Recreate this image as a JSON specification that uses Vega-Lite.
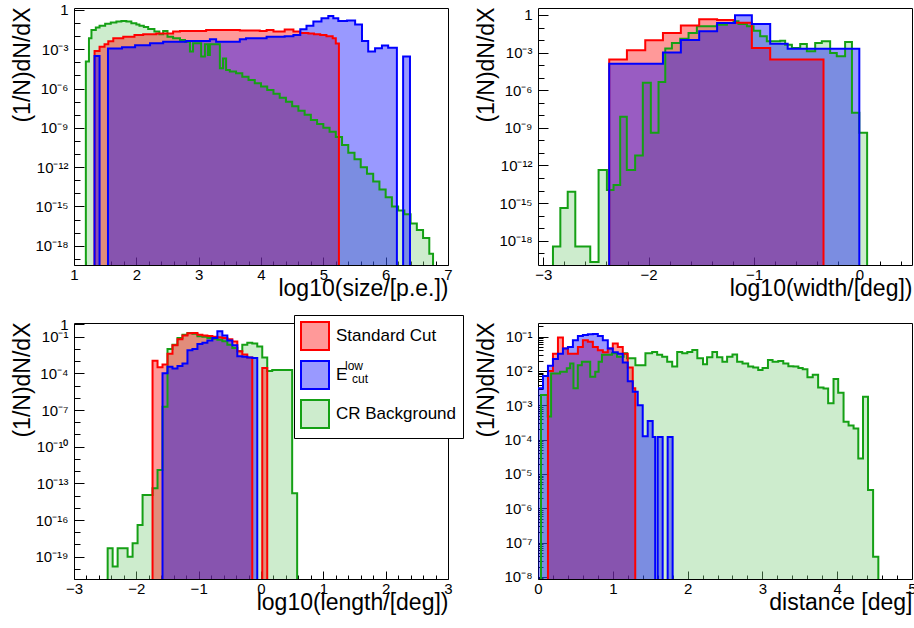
{
  "$schema": "https://vega.github.io/schema/vega-lite/v6.json",
  "background": "white",
  "padding": {"left": 10, "top": 2, "right": 0, "bottom": 0},
  "columns": 2,
  "spacing": {"row": 58, "column": 90},
  "bounds": "flush",
  "resolve": {
    "scale": {"x": "independent", "y": "independent", "fill": "independent", "stroke": "independent", "opacity": "independent"},
    "axis": {"x": "independent", "y": "independent"},
    "legend": {"fill": "independent", "stroke": "independent", "opacity": "independent"}
  },
  "config": {
    "font": "Liberation Sans",
    "view": {"stroke": "#000000", "strokeWidth": 1},
    "axis": {
      "domain": false, "grid": false, "labelFont": "Liberation Sans", "labelFontSize": 15, "labelColor": "#000000",
      "tickColor": "#000000", "tickWidth": 1, "titleFont": "Liberation Sans", "titleFontSize": 23, "titleFontWeight": "normal",
      "titleColor": "#000000", "labelFlush": false, "labelOverlap": false, "labelBound": false, "zindex": 1
    },
    "axisX": {"labelPadding": 10, "titleAlign": "right", "titleBaseline": "alphabetic", "titleX": 374, "titleY": 30, "titleAnchor": "end"},
    "axisY": {"labelPadding": 16, "titleAngle": -90, "titleAlign": "right", "titleBaseline": "middle", "titleX": -52, "titleY": -1, "titleAnchor": "end"}
  },
  "concat": [
    {
      "width": 374, "height": 257,
      "data": {"values": [
        {"s":"CR","x":1,"y":1e-30},{"s":"CR","x":1.19,"y":1.15e-4},{"s":"CR","x":1.24,"y":6.9e-3},{"s":"CR","x":1.28,"y":2.95e-2},{"s":"CR","x":1.35,"y":4.5e-2},{"s":"CR","x":1.41,"y":6.3e-2},{"s":"CR","x":1.5,"y":8.9e-2},{"s":"CR","x":1.59,"y":0.112},{"s":"CR","x":1.68,"y":0.132},{"s":"CR","x":1.76,"y":0.145},{"s":"CR","x":1.84,"y":0.129},{"s":"CR","x":1.92,"y":9.5e-2},{"s":"CR","x":2.0,"y":7.6e-2},{"s":"CR","x":2.05,"y":6.3e-2},{"s":"CR","x":2.12,"y":5.0e-2},{"s":"CR","x":2.19,"y":3.55e-2},{"s":"CR","x":2.29,"y":2.24e-2},{"s":"CR","x":2.37,"y":1.38e-2},{"s":"CR","x":2.43,"y":2.5e-2},{"s":"CR","x":2.5,"y":9.1e-3},{"s":"CR","x":2.59,"y":6.9e-3},{"s":"CR","x":2.7,"y":5.1e-3},{"s":"CR","x":2.78,"y":3.8e-3},{"s":"CR","x":2.86,"y":6.6e-4},{"s":"CR","x":2.91,"y":2.9e-3},{"s":"CR","x":3.04,"y":2.75e-4},{"s":"CR","x":3.1,"y":2.4e-3},{"s":"CR","x":3.15,"y":3.6e-4},{"s":"CR","x":3.18,"y":2.4e-3},{"s":"CR","x":3.34,"y":3.55e-5},{"s":"CR","x":3.39,"y":2.0e-4},{"s":"CR","x":3.44,"y":2.6e-5},{"s":"CR","x":3.5,"y":2.0e-5},{"s":"CR","x":3.6,"y":1.48e-5},{"s":"CR","x":3.7,"y":8.1e-6},{"s":"CR","x":3.8,"y":4.6e-6},{"s":"CR","x":3.9,"y":2.5e-6},{"s":"CR","x":4.0,"y":1.41e-6},{"s":"CR","x":4.1,"y":7.9e-7},{"s":"CR","x":4.2,"y":4.0e-7},{"s":"CR","x":4.3,"y":2.0e-7},{"s":"CR","x":4.4,"y":1.0e-7},{"s":"CR","x":4.5,"y":4.5e-8},{"s":"CR","x":4.6,"y":2.0e-8},{"s":"CR","x":4.7,"y":1.0e-8},{"s":"CR","x":4.8,"y":4.0e-9},{"s":"CR","x":4.9,"y":2.0e-9},{"s":"CR","x":5.0,"y":1.0e-9},{"s":"CR","x":5.1,"y":5.0e-10},{"s":"CR","x":5.2,"y":2.0e-10},{"s":"CR","x":5.3,"y":5.0e-11},{"s":"CR","x":5.4,"y":1.26e-11},{"s":"CR","x":5.5,"y":4.0e-12},{"s":"CR","x":5.6,"y":1.0e-12},{"s":"CR","x":5.7,"y":3.2e-13},{"s":"CR","x":5.8,"y":7.9e-14},{"s":"CR","x":5.9,"y":2.0e-14},{"s":"CR","x":6.0,"y":5.0e-15},{"s":"CR","x":6.1,"y":1.0e-15},{"s":"CR","x":6.2,"y":5.0e-16},{"s":"CR","x":6.3,"y":2.5e-16},{"s":"CR","x":6.4,"y":5.0e-17},{"s":"CR","x":6.5,"y":1.58e-17},{"s":"CR","x":6.6,"y":4.0e-18},{"s":"CR","x":6.7,"y":2.5e-19},{"s":"CR","x":6.76,"y":1e-30},
        {"s":"SC","x":1,"y":1e-30},{"s":"SC","x":1.33,"y":7.4e-4},{"s":"SC","x":1.41,"y":1.58e-3},{"s":"SC","x":1.49,"y":2.4e-3},{"s":"SC","x":1.55,"y":4.0e-3},{"s":"SC","x":1.63,"y":6.9e-3},{"s":"SC","x":1.79,"y":9.1e-3},{"s":"SC","x":1.97,"y":1.23e-2},{"s":"SC","x":2.11,"y":1.38e-2},{"s":"SC","x":2.32,"y":1.58e-2},{"s":"SC","x":2.59,"y":2.24e-2},{"s":"SC","x":2.7,"y":2.5e-2},{"s":"SC","x":3.12,"y":2.95e-2},{"s":"SC","x":3.66,"y":2.7e-2},{"s":"SC","x":3.98,"y":2.5e-2},{"s":"SC","x":4.09,"y":2.95e-2},{"s":"SC","x":4.2,"y":2.24e-2},{"s":"SC","x":4.38,"y":3.16e-2},{"s":"SC","x":4.52,"y":2.24e-2},{"s":"SC","x":4.63,"y":1.78e-2},{"s":"SC","x":4.76,"y":1.58e-2},{"s":"SC","x":4.85,"y":1.38e-2},{"s":"SC","x":4.95,"y":1.2e-2},{"s":"SC","x":5.05,"y":1.0e-2},{"s":"SC","x":5.15,"y":6.9e-3},{"s":"SC","x":5.2,"y":2.8e-3},{"s":"SC","x":5.25,"y":1e-30},
        {"s":"EL","x":1,"y":1e-30},{"s":"EL","x":1.33,"y":3.1e-4},{"s":"EL","x":1.41,"y":1e-30},{"s":"EL","x":1.545,"y":1.12e-3},{"s":"EL","x":1.77,"y":1.41e-3},{"s":"EL","x":1.98,"y":2.0e-3},{"s":"EL","x":2.22,"y":2.9e-3},{"s":"EL","x":2.43,"y":3.8e-3},{"s":"EL","x":2.8,"y":4.2e-3},{"s":"EL","x":3.18,"y":5.8e-3},{"s":"EL","x":3.28,"y":3.8e-3},{"s":"EL","x":3.66,"y":5.8e-3},{"s":"EL","x":3.76,"y":6.9e-3},{"s":"EL","x":4.09,"y":9.1e-3},{"s":"EL","x":4.38,"y":1.0e-2},{"s":"EL","x":4.52,"y":1.23e-2},{"s":"EL","x":4.63,"y":3.3e-2},{"s":"EL","x":4.73,"y":6.3e-2},{"s":"EL","x":4.84,"y":0.129},{"s":"EL","x":4.97,"y":0.229},{"s":"EL","x":5.08,"y":0.35},{"s":"EL","x":5.16,"y":0.229},{"s":"EL","x":5.24,"y":0.145},{"s":"EL","x":5.38,"y":0.158},{"s":"EL","x":5.51,"y":7.9e-2},{"s":"EL","x":5.62,"y":4.3e-3},{"s":"EL","x":5.72,"y":6.6e-4},{"s":"EL","x":5.83,"y":1.2e-3},{"s":"EL","x":5.94,"y":1.9e-3},{"s":"EL","x":6.04,"y":1.32e-3},{"s":"EL","x":6.18,"y":1e-30},{"s":"EL","x":6.28,"y":2.75e-4},{"s":"EL","x":6.39,"y":1e-30}
      ]},
      "encoding": {
        "x": {"field": "x", "type": "quantitative", "scale": {"domain": [1, 7], "nice": false, "zero": false},
          "axis": {"title": "log10(size/[p.e.])", "values": [1,1.2,1.4,1.6,1.8,2,2.2,2.4,2.6,2.8,3,3.2,3.4,3.6,3.8,4,4.2,4.4,4.6,4.8,5,5.2,5.4,5.6,5.8,6,6.2,6.4,6.6,6.8,7],
            "labelExpr": "abs(datum.value - round(datum.value)) < 0.001 ? format(datum.value, 'd') : ''",
            "tickSize": {"condition": {"test": "abs(datum.value - round(datum.value)) < 0.001", "value": -8}, "value": -4}}},
        "y": {"field": "y", "type": "quantitative", "stack": null, "scale": {"type": "log", "domain": [3.4e-20, 1.41], "nice": false},
          "axis": {"title": "(1/N)dN/dX", "values": [1,0.1,0.01,1e-3,1e-4,1e-5,1e-6,1e-7,1e-8,1e-9,1e-10,1e-11,1e-12,1e-13,1e-14,1e-15,1e-16,1e-17,1e-18,1e-19],
            "labelExpr": "round(-log(datum.value)/LN10) % 3 != 0 ? '' : round(-log(datum.value)/LN10) == 0 ? '1' : '10⁻' + (round(-log(datum.value)/LN10) >= 10 ? '¹' : '') + substring('⁰¹²³⁴⁵⁶⁷⁸⁹', round(-log(datum.value)/LN10) % 10, round(-log(datum.value)/LN10) % 10 + 1)",
            "tickSize": {"condition": {"test": "round(-log(datum.value)/LN10) % 3 == 0", "value": -10}, "value": -6}}}
      },
      "layer": [
        {"mark": {"type": "area", "interpolate": "step-after", "clip": true, "fillOpacity": 0.4},
         "encoding": {"y2": {"datum": 1e-30},
           "fill": {"field": "s", "type": "nominal", "scale": {"domain": ["SC","EL","CR"], "range": ["#ff0000","#0000ff","#82d082"]}, "legend": null}}},
        {"mark": {"type": "line", "interpolate": "step-after", "clip": true, "strokeWidth": 2},
         "encoding": {"stroke": {"field": "s", "type": "nominal", "scale": {"domain": ["SC","EL","CR"], "range": ["#ff0000","#0000ff","#15a015"]}, "legend": null}}}
      ]
    },
    {
      "width": 374, "height": 257,
      "data": {"values": [
        {"s":"CR","x":-3.05,"y":1e-30},{"s":"CR","x":-2.908,"y":3.4e-19},{"s":"CR","x":-2.838,"y":4.0e-16},{"s":"CR","x":-2.768,"y":8.1e-15},{"s":"CR","x":-2.696,"y":3.4e-19},{"s":"CR","x":-2.554,"y":2.0e-20},{"s":"CR","x":-2.475,"y":4.4e-13},{"s":"CR","x":-2.396,"y":1.1e-14},{"s":"CR","x":-2.333,"y":2.75e-14},{"s":"CR","x":-2.27,"y":7.8e-9},{"s":"CR","x":-2.207,"y":4.4e-13},{"s":"CR","x":-2.128,"y":6.3e-12},{"s":"CR","x":-2.055,"y":4.0e-6},{"s":"CR","x":-1.979,"y":4.0e-10},{"s":"CR","x":-1.906,"y":4.5e-6},{"s":"CR","x":-1.842,"y":2.1e-3},{"s":"CR","x":-1.779,"y":5.9e-3},{"s":"CR","x":-1.7,"y":1.29e-2},{"s":"CR","x":-1.621,"y":3.6e-2},{"s":"CR","x":-1.542,"y":0.126},{"s":"CR","x":-1.352,"y":0.17},{"s":"CR","x":-1.257,"y":0.229},{"s":"CR","x":-1.194,"y":0.316},{"s":"CR","x":-1.147,"y":0.19},{"s":"CR","x":-1.067,"y":0.126},{"s":"CR","x":-1.004,"y":5.6e-2},{"s":"CR","x":-0.941,"y":2.0e-2},{"s":"CR","x":-0.878,"y":7.9e-3},{"s":"CR","x":-0.751,"y":8.9e-3},{"s":"CR","x":-0.704,"y":4.3e-3},{"s":"CR","x":-0.64,"y":2.34e-3},{"s":"CR","x":-0.561,"y":4.9e-3},{"s":"CR","x":-0.498,"y":1.26e-3},{"s":"CR","x":-0.419,"y":5.9e-3},{"s":"CR","x":-0.356,"y":7.9e-3},{"s":"CR","x":-0.277,"y":9.3e-4},{"s":"CR","x":-0.214,"y":5.0e-4},{"s":"CR","x":-0.135,"y":7.1e-3},{"s":"CR","x":-0.07,"y":1.58e-8},{"s":"CR","x":0.0,"y":4.0e-10},{"s":"CR","x":0.074,"y":1e-30},
        {"s":"SC","x":-3.05,"y":1e-30},{"s":"SC","x":-2.374,"y":2.75e-4},{"s":"SC","x":-2.206,"y":1.51e-3},{"s":"SC","x":-2.032,"y":9.5e-3},{"s":"SC","x":-1.864,"y":3.6e-2},{"s":"SC","x":-1.694,"y":0.148},{"s":"SC","x":-1.52,"y":0.447},{"s":"SC","x":-1.35,"y":0.398},{"s":"SC","x":-1.18,"y":0.24},{"s":"SC","x":-1.02,"y":2.34e-3},{"s":"SC","x":-0.846,"y":2.75e-4},{"s":"SC","x":-0.34,"y":1e-30},
        {"s":"EL","x":-3.05,"y":1e-30},{"s":"EL","x":-2.374,"y":1.26e-4},{"s":"EL","x":-1.864,"y":1.0e-3},{"s":"EL","x":-1.694,"y":1.0e-2},{"s":"EL","x":-1.52,"y":5.0e-2},{"s":"EL","x":-1.35,"y":0.229},{"s":"EL","x":-1.18,"y":0.955},{"s":"EL","x":-1.02,"y":0.19},{"s":"EL","x":-0.846,"y":5.0e-3},{"s":"EL","x":-0.68,"y":2.0e-3},{"s":"EL","x":0.0,"y":1e-30}
      ]},
      "encoding": {
        "x": {"field": "x", "type": "quantitative", "scale": {"domain": [-3.05, 0.5], "nice": false, "zero": false},
          "axis": {"title": "log10(width/[deg])", "values": [-3,-2.8,-2.6,-2.4,-2.2,-2,-1.8,-1.6,-1.4,-1.2,-1,-0.8,-0.6,-0.4,-0.2,0,0.2,0.4],
            "labelExpr": "abs(datum.value - round(datum.value)) < 0.001 ? format(datum.value, 'd') : ''",
            "tickSize": {"condition": {"test": "abs(datum.value - round(datum.value)) < 0.001", "value": -8}, "value": -4}}},
        "y": {"field": "y", "type": "quantitative", "stack": null, "scale": {"type": "log", "domain": [1.15e-20, 3.6], "nice": false},
          "axis": {"title": "(1/N)dN/dX", "values": [1,0.1,0.01,1e-3,1e-4,1e-5,1e-6,1e-7,1e-8,1e-9,1e-10,1e-11,1e-12,1e-13,1e-14,1e-15,1e-16,1e-17,1e-18,1e-19],
            "labelExpr": "round(-log(datum.value)/LN10) % 3 != 0 ? '' : round(-log(datum.value)/LN10) == 0 ? '1' : '10⁻' + (round(-log(datum.value)/LN10) >= 10 ? '¹' : '') + substring('⁰¹²³⁴⁵⁶⁷⁸⁹', round(-log(datum.value)/LN10) % 10, round(-log(datum.value)/LN10) % 10 + 1)",
            "tickSize": {"condition": {"test": "round(-log(datum.value)/LN10) % 3 == 0", "value": -10}, "value": -6}}}
      },
      "layer": [
        {"mark": {"type": "area", "interpolate": "step-after", "clip": true, "fillOpacity": 0.4},
         "encoding": {"y2": {"datum": 1e-30},
           "fill": {"field": "s", "type": "nominal", "scale": {"domain": ["SC","EL","CR"], "range": ["#ff0000","#0000ff","#82d082"]}, "legend": null}}},
        {"mark": {"type": "line", "interpolate": "step-after", "clip": true, "strokeWidth": 2},
         "encoding": {"stroke": {"field": "s", "type": "nominal", "scale": {"domain": ["SC","EL","CR"], "range": ["#ff0000","#0000ff","#15a015"]}, "legend": null}}}
      ]
    },
    {
      "width": 374, "height": 256,
      "data": {"values": [
        {"s":"CR","x":-3,"y":1e-30},{"s":"CR","x":-2.46,"y":5.0e-19},{"s":"CR","x":-2.38,"y":1.58e-20},{"s":"CR","x":-2.3,"y":5.0e-19},{"s":"CR","x":-2.14,"y":1.0e-19},{"s":"CR","x":-2.06,"y":1.26e-18},{"s":"CR","x":-1.98,"y":4.0e-17},{"s":"CR","x":-1.9,"y":1.12e-14},{"s":"CR","x":-1.74,"y":4.0e-14},{"s":"CR","x":-1.66,"y":1.26e-12},{"s":"CR","x":-1.58,"y":1.86e-7},{"s":"CR","x":-1.5,"y":1.0e-2},{"s":"CR","x":-1.42,"y":2.24e-2},{"s":"CR","x":-1.34,"y":7.8e-2},{"s":"CR","x":-1.26,"y":0.145},{"s":"CR","x":-1.18,"y":0.2},{"s":"CR","x":-1.1,"y":0.178},{"s":"CR","x":-1.02,"y":0.107},{"s":"CR","x":-0.94,"y":0.1},{"s":"CR","x":-0.86,"y":7.9e-2},{"s":"CR","x":-0.78,"y":6.9e-2},{"s":"CR","x":-0.7,"y":5.6e-2},{"s":"CR","x":-0.62,"y":4.2e-2},{"s":"CR","x":-0.54,"y":2.24e-2},{"s":"CR","x":-0.46,"y":1.17e-2},{"s":"CR","x":-0.38,"y":6.3e-3},{"s":"CR","x":-0.3,"y":2.24e-2},{"s":"CR","x":-0.22,"y":3.16e-2},{"s":"CR","x":-0.14,"y":2.8e-2},{"s":"CR","x":-0.06,"y":1.58e-2},{"s":"CR","x":0.02,"y":2.0e-3},{"s":"CR","x":0.1,"y":1.58e-4},{"s":"CR","x":0.18,"y":1.9e-4},{"s":"CR","x":0.5,"y":1.58e-14},{"s":"CR","x":0.58,"y":1e-30},
        {"s":"SC","x":-3,"y":1e-30},{"s":"SC","x":-1.74,"y":1.1e-3},{"s":"SC","x":-1.66,"y":3.16e-4},{"s":"SC","x":-1.58,"y":5.2e-4},{"s":"SC","x":-1.5,"y":4.0e-3},{"s":"SC","x":-1.42,"y":2.0e-2},{"s":"SC","x":-1.34,"y":6.3e-2},{"s":"SC","x":-1.26,"y":0.126},{"s":"SC","x":-1.18,"y":0.19},{"s":"SC","x":-1.1,"y":0.2},{"s":"SC","x":-1.02,"y":0.141},{"s":"SC","x":-0.94,"y":0.126},{"s":"SC","x":-0.86,"y":0.112},{"s":"SC","x":-0.78,"y":0.1},{"s":"SC","x":-0.7,"y":8.9e-2},{"s":"SC","x":-0.62,"y":7.9e-2},{"s":"SC","x":-0.54,"y":6.3e-2},{"s":"SC","x":-0.46,"y":4.0e-2},{"s":"SC","x":-0.38,"y":6.3e-3},{"s":"SC","x":-0.3,"y":3.5e-3},{"s":"SC","x":-0.22,"y":2.0e-3},{"s":"SC","x":-0.14,"y":1e-30},{"s":"SC","x":0.02,"y":2.75e-4},{"s":"SC","x":0.1,"y":1e-30},
        {"s":"EL","x":-3,"y":1e-30},{"s":"EL","x":-1.58,"y":1.0e-4},{"s":"EL","x":-1.5,"y":3.5e-4},{"s":"EL","x":-1.42,"y":2.5e-4},{"s":"EL","x":-1.34,"y":4.0e-4},{"s":"EL","x":-1.26,"y":6.3e-4},{"s":"EL","x":-1.18,"y":7.9e-3},{"s":"EL","x":-1.1,"y":1.0e-2},{"s":"EL","x":-1.02,"y":2.5e-2},{"s":"EL","x":-0.94,"y":3.16e-2},{"s":"EL","x":-0.86,"y":5.0e-2},{"s":"EL","x":-0.78,"y":7.9e-2},{"s":"EL","x":-0.7,"y":0.28},{"s":"EL","x":-0.62,"y":0.126},{"s":"EL","x":-0.54,"y":5.0e-2},{"s":"EL","x":-0.46,"y":2.0e-2},{"s":"EL","x":-0.38,"y":2.5e-3},{"s":"EL","x":-0.3,"y":2.24e-3},{"s":"EL","x":-0.22,"y":2.0e-3},{"s":"EL","x":-0.14,"y":1.78e-3},{"s":"EL","x":-0.06,"y":1e-30}
      ]},
      "encoding": {
        "x": {"field": "x", "type": "quantitative", "scale": {"domain": [-3, 3], "nice": false, "zero": false},
          "axis": {"title": "log10(length/[deg])", "values": [-3,-2.8,-2.6,-2.4,-2.2,-2,-1.8,-1.6,-1.4,-1.2,-1,-0.8,-0.6,-0.4,-0.2,0,0.2,0.4,0.6,0.8,1,1.2,1.4,1.6,1.8,2,2.2,2.4,2.6,2.8,3],
            "labelExpr": "abs(datum.value - round(datum.value)) < 0.001 ? format(datum.value, 'd') : ''",
            "tickSize": {"condition": {"test": "abs(datum.value - round(datum.value)) < 0.001", "value": -8}, "value": -4}}},
        "y": {"field": "y", "type": "quantitative", "stack": null, "scale": {"type": "log", "domain": [1.5e-21, 1.32], "nice": false},
          "axis": {"title": "(1/N)dN/dX", "values": [1,0.1,0.01,1e-3,1e-4,1e-5,1e-6,1e-7,1e-8,1e-9,1e-10,1e-11,1e-12,1e-13,1e-14,1e-15,1e-16,1e-17,1e-18,1e-19,1e-20],
            "labelExpr": "round(-log(datum.value)/LN10) == 0 ? '1' : round(-log(datum.value)/LN10) % 3 != 1 ? '' : '10⁻' + (round(-log(datum.value)/LN10) >= 10 ? '¹' : '') + substring('⁰¹²³⁴⁵⁶⁷⁸⁹', round(-log(datum.value)/LN10) % 10, round(-log(datum.value)/LN10) % 10 + 1)",
            "tickSize": {"condition": {"test": "round(-log(datum.value)/LN10) % 3 == 1 || round(-log(datum.value)/LN10) == 0", "value": -10}, "value": -6}}}
      },
      "layer": [
        {"mark": {"type": "area", "interpolate": "step-after", "clip": true, "fillOpacity": 0.4},
         "encoding": {"y2": {"datum": 1e-30},
           "fill": {"field": "s", "type": "nominal", "scale": {"domain": ["SC","EL","CR"], "range": ["#ff0000","#0000ff","#82d082"]},
             "legend": {"orient": "none", "legendX": 220, "legendY": -8, "title": null, "symbolType": "square", "symbolSize": 784,
               "labelFont": "Liberation Sans", "labelFontSize": 17, "labelColor": "#000000", "labelOffset": 6, "rowPadding": 3, "padding": 6,
               "strokeColor": "#000000", "fillColor": "#ffffff", "zindex": 1,
               "labelExpr": "datum.label == 'SC' ? 'Standard Cut' : datum.label == 'EL' ? 'E' : 'CR Background'",
               "encode": {"symbols": {"update": {"strokeWidth": {"value": 2}, "fillOpacity": {"value": 0.4}}}}}},
           "opacity": {"datum": "cut", "type": "ordinal", "scale": {"range": [1]},
             "legend": {"orient": "none", "legendX": 271, "legendY": 38, "title": "low", "titleFont": "Liberation Sans", "titleFontSize": 12,
               "titleFontWeight": "normal", "titleColor": "#000000", "titlePadding": 0, "titleBaseline": "top", "padding": 0, "symbolSize": 0, "symbolOpacity": 0,
               "labelOffset": -5, "labelFont": "Liberation Sans", "labelFontSize": 12, "labelColor": "#000000", "zindex": 2,
               "encode": {"symbols": {"update": {"opacity": {"value": 0}}}}}}}},
        {"mark": {"type": "line", "interpolate": "step-after", "clip": true, "strokeWidth": 2},
         "encoding": {"stroke": {"field": "s", "type": "nominal", "scale": {"domain": ["SC","EL","CR"], "range": ["#ff0000","#0000ff","#15a015"]},
           "legend": {"orient": "none", "legendX": 220, "legendY": -8, "title": null, "symbolType": "square", "symbolSize": 784,
             "labelFont": "Liberation Sans", "labelFontSize": 17, "labelColor": "#000000", "labelOffset": 6, "rowPadding": 3, "padding": 6,
             "strokeColor": "#000000", "fillColor": "#ffffff", "zindex": 1,
             "labelExpr": "datum.label == 'SC' ? 'Standard Cut' : datum.label == 'EL' ? 'E' : 'CR Background'",
             "encode": {"symbols": {"update": {"strokeWidth": {"value": 2}, "fillOpacity": {"value": 0.4}}}}}}}}
      ]
    },
    {
      "width": 374, "height": 256,
      "data": {"values": [
        {"s":"CR","x":0,"y":1e-30},{"s":"CR","x":0.04,"y":2.0e-3},{"s":"CR","x":0.13,"y":4.7e-4},{"s":"CR","x":0.175,"y":8.5e-3},{"s":"CR","x":0.295,"y":9.5e-3},{"s":"CR","x":0.385,"y":1.2e-2},{"s":"CR","x":0.43,"y":1.66e-2},{"s":"CR","x":0.474,"y":3.16e-3},{"s":"CR","x":0.532,"y":1.48e-2},{"s":"CR","x":0.586,"y":1.86e-2},{"s":"CR","x":0.698,"y":6.8e-3},{"s":"CR","x":0.765,"y":9.5e-3},{"s":"CR","x":0.81,"y":1.86e-2},{"s":"CR","x":0.855,"y":2.95e-2},{"s":"CR","x":0.989,"y":3.3e-2},{"s":"CR","x":1.056,"y":2.6e-2},{"s":"CR","x":1.145,"y":3.3e-2},{"s":"CR","x":1.19,"y":2.34e-2},{"s":"CR","x":1.302,"y":1.48e-2},{"s":"CR","x":1.436,"y":3.3e-2},{"s":"CR","x":1.526,"y":3.6e-2},{"s":"CR","x":1.593,"y":2.95e-2},{"s":"CR","x":1.66,"y":2.6e-2},{"s":"CR","x":1.727,"y":1.86e-2},{"s":"CR","x":1.794,"y":1.35e-2},{"s":"CR","x":1.861,"y":3.6e-2},{"s":"CR","x":1.928,"y":3.3e-2},{"s":"CR","x":1.996,"y":3.6e-2},{"s":"CR","x":2.063,"y":4.1e-2},{"s":"CR","x":2.13,"y":2.34e-2},{"s":"CR","x":2.206,"y":1.58e-2},{"s":"CR","x":2.26,"y":2.5e-2},{"s":"CR","x":2.331,"y":3.6e-2},{"s":"CR","x":2.394,"y":2.5e-2},{"s":"CR","x":2.465,"y":1.86e-2},{"s":"CR","x":2.528,"y":2.6e-2},{"s":"CR","x":2.6,"y":3.0e-2},{"s":"CR","x":2.662,"y":1.86e-2},{"s":"CR","x":2.734,"y":1.66e-2},{"s":"CR","x":2.81,"y":1.35e-2},{"s":"CR","x":2.877,"y":1.26e-2},{"s":"CR","x":2.944,"y":1.07e-2},{"s":"CR","x":3.002,"y":1.23e-2},{"s":"CR","x":3.074,"y":2.1e-2},{"s":"CR","x":3.136,"y":1.86e-2},{"s":"CR","x":3.212,"y":1.95e-2},{"s":"CR","x":3.279,"y":1.66e-2},{"s":"CR","x":3.347,"y":1.38e-2},{"s":"CR","x":3.414,"y":1.35e-2},{"s":"CR","x":3.481,"y":1.23e-2},{"s":"CR","x":3.539,"y":1.12e-2},{"s":"CR","x":3.602,"y":6.6e-3},{"s":"CR","x":3.673,"y":7.8e-3},{"s":"CR","x":3.745,"y":3.3e-3},{"s":"CR","x":3.817,"y":3.1e-3},{"s":"CR","x":3.879,"y":1.15e-3},{"s":"CR","x":3.951,"y":5.8e-3},{"s":"CR","x":4.013,"y":2.34e-3},{"s":"CR","x":4.085,"y":3.3e-4},{"s":"CR","x":4.152,"y":2.6e-4},{"s":"CR","x":4.219,"y":2.1e-4},{"s":"CR","x":4.282,"y":2.8e-5},{"s":"CR","x":4.345,"y":1.78e-3},{"s":"CR","x":4.412,"y":3.4e-6},{"s":"CR","x":4.48,"y":3.9e-8},{"s":"CR","x":4.55,"y":1e-30},
        {"s":"SC","x":0,"y":1e-30},{"s":"SC","x":0.1333,"y":1.0e-2},{"s":"SC","x":0.2,"y":3.16e-2},{"s":"SC","x":0.2667,"y":9.5e-2},{"s":"SC","x":0.3333,"y":4.5e-2},{"s":"SC","x":0.4,"y":3.16e-2},{"s":"SC","x":0.5333,"y":5.0e-2},{"s":"SC","x":0.6,"y":7.9e-2},{"s":"SC","x":0.6667,"y":7.1e-2},{"s":"SC","x":0.7333,"y":5.0e-2},{"s":"SC","x":0.8,"y":4.0e-2},{"s":"SC","x":0.8667,"y":3.5e-2},{"s":"SC","x":0.9333,"y":4.5e-2},{"s":"SC","x":1.0,"y":6.3e-2},{"s":"SC","x":1.0667,"y":5.0e-2},{"s":"SC","x":1.1333,"y":3.16e-2},{"s":"SC","x":1.2,"y":1.26e-2},{"s":"SC","x":1.2667,"y":3.16e-3},{"s":"SC","x":1.3,"y":1e-30},
        {"s":"EL","x":0,"y":3.16e-3},{"s":"EL","x":0.0667,"y":7.1e-3},{"s":"EL","x":0.1333,"y":1.41e-2},{"s":"EL","x":0.2,"y":2.24e-2},{"s":"EL","x":0.2667,"y":3.16e-2},{"s":"EL","x":0.3333,"y":4.5e-2},{"s":"EL","x":0.4,"y":5.0e-2},{"s":"EL","x":0.4667,"y":7.9e-2},{"s":"EL","x":0.5333,"y":0.105},{"s":"EL","x":0.6,"y":0.112},{"s":"EL","x":0.6667,"y":0.117},{"s":"EL","x":0.7333,"y":0.12},{"s":"EL","x":0.8,"y":0.105},{"s":"EL","x":0.8667,"y":7.9e-2},{"s":"EL","x":0.9333,"y":4.5e-2},{"s":"EL","x":1.0,"y":3.5e-2},{"s":"EL","x":1.0667,"y":3.16e-2},{"s":"EL","x":1.1333,"y":1.78e-2},{"s":"EL","x":1.2,"y":5.0e-3},{"s":"EL","x":1.2667,"y":2.5e-3},{"s":"EL","x":1.3333,"y":1.0e-3},{"s":"EL","x":1.4,"y":1.26e-4},{"s":"EL","x":1.4667,"y":3.5e-4},{"s":"EL","x":1.5333,"y":1.2e-4},{"s":"EL","x":1.5667,"y":1e-30},{"s":"EL","x":1.6,"y":1.2e-4},{"s":"EL","x":1.6667,"y":1e-30},{"s":"EL","x":1.7333,"y":1.2e-4},{"s":"EL","x":1.8,"y":1e-30}
      ]},
      "encoding": {
        "x": {"field": "x", "type": "quantitative", "scale": {"domain": [0, 5], "nice": false, "zero": false},
          "axis": {"title": "distance [deg]", "values": [0,0.2,0.4,0.6,0.8,1,1.2,1.4,1.6,1.8,2,2.2,2.4,2.6,2.8,3,3.2,3.4,3.6,3.8,4,4.2,4.4,4.6,4.8,5],
            "labelExpr": "abs(datum.value - round(datum.value)) < 0.001 ? format(datum.value, 'd') : ''",
            "tickSize": {"condition": {"test": "abs(datum.value - round(datum.value)) < 0.001", "value": -8}, "value": -4}}},
        "y": {"field": "y", "type": "quantitative", "stack": null, "scale": {"type": "log", "domain": [8.7e-9, 0.25], "nice": false},
          "axis": {"title": "(1/N)dN/dX", "values": [9e-9,1e-8,2e-8,3e-8,4e-8,5e-8,6e-8,7e-8,8e-8,9e-8,1e-7,2e-7,3e-7,4e-7,5e-7,6e-7,7e-7,8e-7,9e-7,1e-6,2e-6,3e-6,4e-6,5e-6,6e-6,7e-6,8e-6,9e-6,1e-5,2e-5,3e-5,4e-5,5e-5,6e-5,7e-5,8e-5,9e-5,1e-4,2e-4,3e-4,4e-4,5e-4,6e-4,7e-4,8e-4,9e-4,0.001,0.002,0.003,0.004,0.005,0.006,0.007,0.008,0.009,0.01,0.02,0.03,0.04,0.05,0.06,0.07,0.08,0.09,0.1,0.2],
            "labelExpr": "abs(log(datum.value)/LN10 - round(log(datum.value)/LN10)) > 0.01 ? '' : '10⁻' + substring('⁰¹²³⁴⁵⁶⁷⁸⁹', round(-log(datum.value)/LN10), round(-log(datum.value)/LN10) + 1)",
            "tickSize": {"condition": {"test": "abs(log(datum.value)/LN10 - round(log(datum.value)/LN10)) < 0.01", "value": -10}, "value": -5}}}
      },
      "layer": [
        {"mark": {"type": "area", "interpolate": "step-after", "clip": true, "fillOpacity": 0.4},
         "encoding": {"y2": {"datum": 1e-30},
           "fill": {"field": "s", "type": "nominal", "scale": {"domain": ["SC","EL","CR"], "range": ["#ff0000","#0000ff","#82d082"]}, "legend": null}}},
        {"mark": {"type": "line", "interpolate": "step-after", "clip": true, "strokeWidth": 2},
         "encoding": {"stroke": {"field": "s", "type": "nominal", "scale": {"domain": ["SC","EL","CR"], "range": ["#ff0000","#0000ff","#15a015"]}, "legend": null}}}
      ]
    }
  ]
}
